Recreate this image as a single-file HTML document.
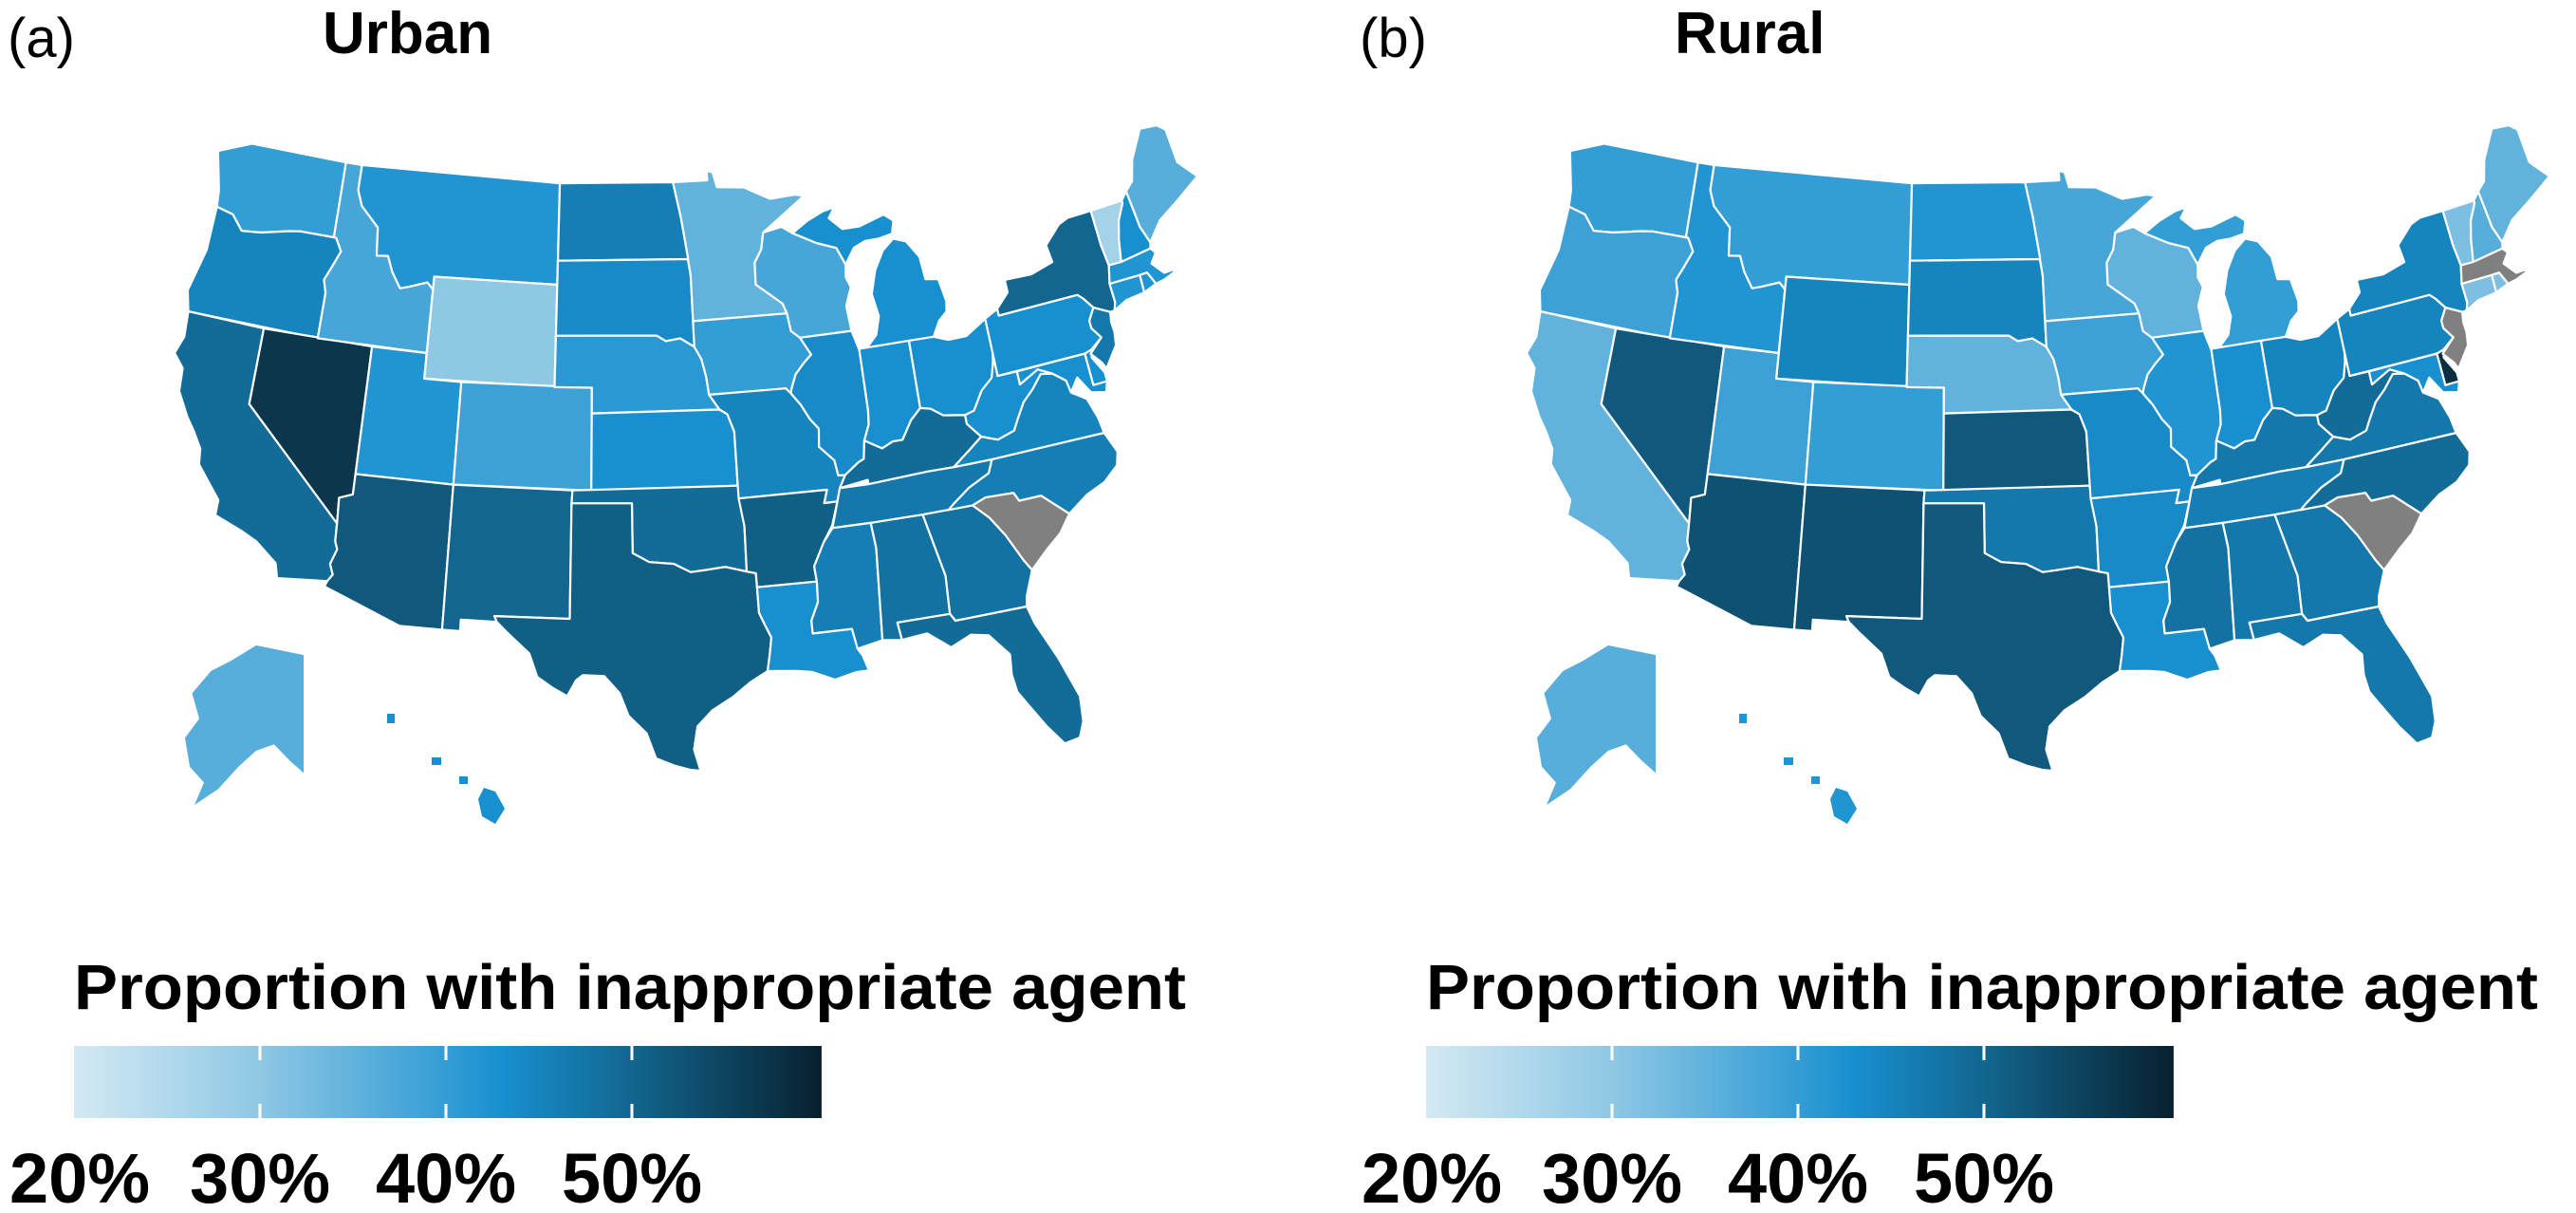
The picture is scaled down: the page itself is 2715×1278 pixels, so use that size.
<!DOCTYPE html>
<html><head><meta charset="utf-8"><style>
html,body{margin:0;padding:0;background:#fff;}
svg{display:block;font-family:"Liberation Sans",Arial,sans-serif;}
</style></head><body>
<svg id="chart" width="2715" height="1278" viewBox="0 0 2715 1278">
<defs id="defs"></defs>
<g id="panels"></g>
</svg>
<script>
// ---- data ----
const stateCodes = ["WA","OR","CA","NV","ID","MT","WY","UT","CO","AZ","NM","ND","SD","NE","KS","OK","TX","MN","IA","MO","AR","LA","WI","IL","MI","MIU","IN","OH","KY","TN","MS","AL","GA","FL","SC","NC","VA","WV","MD","DE","PA","NJ","NY","VT","NH","ME","MA","RI","CT","AK","HI"];
const urbanValues = [40,45,49,57,38,42,30,42,39,52,50,46,44,41,43,49,51,35,40,45,51,43,38,44,43,43,43,43,49,47,46,48,48,49,null,46,45,43,43,43,43,47,50,27,43,36,42,42,42,36,43];
const ruralValues = [40,39,35,52,42,40,45,39,40,53,53,42,45,35,52,47,52,38,39,44,44,43,35,42,40,40,43,45,47,46,48,47,47,47,null,49,47,49,43,58,45,null,45,32,36,35,null,32,32,36,42];
const panelTitles = ["Urban","Rural"];
const panelLetters = ["(a)","(b)"];
const tickValues = [20,30,40,50];
const tickLabels = ["20%","30%","40%","50%"];
const legendTitle = "Proportion with inappropriate agent";

// ---- geometry (lon,lat) ----
const G = {
WA:[[-124.7,48.4],[-122.8,49],[-117.03,49],[-117.03,46],[-118.98,46],[-119.6,45.93],[-121.2,45.65],[-122.3,45.55],[-123,46.1],[-124,46.25],[-124.1,46.9]],
OR:[[-124,46.25],[-123,46.1],[-122.3,45.55],[-121.2,45.65],[-119.6,45.93],[-118.98,46],[-116.9,46],[-116.5,45.5],[-116.9,44.8],[-117.2,44.3],[-117,43.8],[-117.03,42],[-124.2,42],[-124.5,42.8],[-124,44.5]],
CA:[[-124.2,42],[-120,42],[-120,39],[-114.63,35],[-114.6,34.3],[-114.45,34],[-114.7,33.4],[-114.5,33],[-114.72,32.72],[-117.12,32.53],[-117.3,33.1],[-118.4,33.8],[-119.2,34.1],[-120.6,34.5],[-120.6,35.1],[-121.9,36.3],[-122,36.9],[-122.5,37.5],[-123,38],[-123.7,38.9],[-123.8,39.8],[-124.4,40.3],[-124.1,41]],
NV:[[-120,42],[-114.04,42],[-114.04,36.2],[-114.7,36],[-114.63,35],[-120,39]],
ID:[[-117.03,49],[-116.05,49],[-116.05,48],[-115.7,47.4],[-114.6,46.65],[-114.45,45.55],[-113.8,45.6],[-113.45,45],[-112.9,44.4],[-112.4,44.5],[-111.4,44.75],[-111.05,44.5],[-111.05,42],[-117.03,42],[-117,43.8],[-117.2,44.3],[-116.9,44.8],[-116.5,45.5],[-116.9,46],[-117.03,46]],
MT:[[-116.05,49],[-104.05,49],[-104.05,45],[-111.05,45],[-111.05,44.5],[-111.4,44.75],[-112.4,44.5],[-112.9,44.4],[-113.45,45],[-113.8,45.6],[-114.45,45.55],[-114.6,46.65],[-115.7,47.4],[-116.05,48]],
WY:[[-111.05,45],[-104.05,45],[-104.05,41],[-111.05,41]],
UT:[[-114.04,42],[-111.05,42],[-111.05,41],[-109.05,41],[-109.05,37],[-114.04,37]],
CO:[[-109.05,41],[-102.05,41],[-102.05,37],[-109.05,37]],
AZ:[[-114.04,37],[-109.05,37],[-109.05,31.33],[-111.07,31.33],[-114.82,32.5],[-114.72,32.72],[-114.5,33],[-114.7,33.4],[-114.45,34],[-114.6,34.3],[-114.63,35],[-114.7,36],[-114.04,36.2]],
NM:[[-109.05,37],[-103,37],[-103.04,36.5],[-103.04,32],[-106.62,32],[-106.5,31.78],[-108.2,31.78],[-108.2,31.33],[-109.05,31.33]],
ND:[[-104.05,49],[-97.23,49],[-96.85,47.6],[-96.55,46],[-96.56,45.94],[-104.05,45.94]],
SD:[[-104.05,45.94],[-96.56,45.94],[-96.45,45.3],[-96.45,43.5],[-96.45,42.5],[-97.2,42.85],[-98,42.77],[-98.5,43],[-104.05,43]],
NE:[[-104.05,43],[-98.5,43],[-98,42.77],[-97.2,42.85],[-96.45,42.5],[-96.1,42],[-95.9,41.3],[-95.8,40.6],[-95.3,40],[-102.05,40],[-102.05,41],[-104.05,41]],
KS:[[-102.05,40],[-95.3,40],[-94.9,39.8],[-94.6,39.1],[-94.62,37],[-102.05,37]],
OK:[[-103,37],[-94.62,37],[-94.43,35.4],[-94.48,33.64],[-95.5,33.88],[-96.5,33.8],[-97.2,33.75],[-98,34.1],[-99.2,34.2],[-100,34.56],[-100,36.5],[-103.04,36.5]],
TX:[[-103.04,36.5],[-100,36.5],[-100,34.56],[-99.2,34.2],[-98,34.1],[-97.2,33.75],[-96.5,33.8],[-95.5,33.88],[-94.48,33.64],[-94.04,33.55],[-94.04,32],[-93.8,31.5],[-93.55,31],[-93.7,30.3],[-93.85,29.7],[-94.7,29.3],[-95.5,28.8],[-96.5,28.3],[-97.2,27.7],[-97.4,26.8],[-97.15,25.95],[-97.6,26],[-98.3,26.2],[-99.1,26.5],[-99.5,27.5],[-100.3,28.2],[-100.7,29.1],[-101.4,29.77],[-102.4,29.8],[-102.7,29.6],[-103.1,28.97],[-103.8,29.3],[-104.5,29.7],[-104.9,30.6],[-106,31.4],[-106.5,31.78],[-106.62,32],[-103.04,32]],
MN:[[-97.23,49],[-95.15,49],[-95.15,49.38],[-94.8,49.3],[-94.6,48.7],[-93,48.6],[-91.5,48.05],[-90,48.1],[-89.5,48],[-92.1,46.75],[-92.3,46.1],[-92.75,45.6],[-92.8,44.75],[-92.3,44.45],[-91.4,43.9],[-91.22,43.5],[-96.45,43.5],[-96.45,45.3],[-96.56,45.94],[-96.55,46],[-96.85,47.6]],
IA:[[-96.45,43.5],[-91.22,43.5],[-91.1,42.8],[-90.65,42.5],[-90.15,41.8],[-90.6,41.5],[-91.1,41.1],[-91.4,40.55],[-91.45,40.38],[-91.7,40.6],[-95.8,40.6],[-95.9,41.3],[-96.1,42],[-96.45,42.5]],
MO:[[-95.8,40.6],[-91.7,40.6],[-91.45,40.38],[-91,39.9],[-90.6,39.3],[-90.2,38.9],[-90.3,38.2],[-89.6,37.6],[-89.5,37],[-89.15,36.98],[-89.5,36.5],[-89.7,36],[-90.37,36],[-90.15,36.5],[-94.62,36.5],[-94.62,37],[-94.6,39.1],[-94.9,39.8],[-95.3,40]],
AR:[[-94.62,36.5],[-90.15,36.5],[-90.37,36],[-89.7,36],[-90.1,35.1],[-90.6,34.5],[-91.2,33.6],[-91.15,33],[-94.04,33],[-94.04,33.55],[-94.48,33.64],[-94.43,35.4]],
LA:[[-94.04,33],[-91.15,33],[-91.2,32.2],[-91.6,31.5],[-91.6,31],[-89.75,31],[-89.6,30.2],[-89.4,29.9],[-89.2,29.3],[-89.8,29.3],[-90.8,29.1],[-91.8,29.5],[-92.5,29.6],[-93.85,29.7],[-93.7,30.3],[-93.55,31],[-93.8,31.5],[-94.04,32]],
WI:[[-92.1,46.75],[-91,46.9],[-90.4,46.6],[-89.1,46.1],[-88,45.8],[-87.6,45.1],[-87.7,44.6],[-87.5,44.2],[-87.9,43.5],[-87.8,42.5],[-90.65,42.5],[-91.1,42.8],[-91.22,43.5],[-91.4,43.9],[-92.3,44.45],[-92.8,44.75],[-92.75,45.6],[-92.3,46.1]],
IL:[[-90.65,42.5],[-87.8,42.5],[-87.53,41.7],[-87.53,39.35],[-87.6,38.8],[-87.95,38.2],[-88.1,37.5],[-88.4,37.4],[-89.15,36.98],[-89.5,37],[-89.6,37.6],[-90.3,38.2],[-90.2,38.9],[-90.6,39.3],[-91,39.9],[-91.45,40.38],[-91.4,40.55],[-91.1,41.1],[-90.6,41.5],[-90.15,41.8]],
MI:[[-87.1,41.76],[-84.8,41.76],[-83.45,41.73],[-83,42.3],[-82.5,42.6],[-82.4,43],[-82.6,43.9],[-83.3,44],[-83.4,44.9],[-84,45.6],[-84.7,45.8],[-85.4,45.4],[-86,44.7],[-86.4,43.8],[-86.2,42.9],[-86.5,42.2]],
MIU:[[-90.4,46.6],[-89.5,47],[-88.5,47.3],[-87.8,47.4],[-88.2,47],[-87.5,46.5],[-86.5,46.5],[-85,46.8],[-84.5,46.5],[-84.7,46],[-85.5,45.9],[-86.3,45.9],[-87,45.7],[-87.6,45.1],[-88,45.8],[-89.1,46.1]],
IN:[[-87.53,41.76],[-84.8,41.76],[-84.82,39.1],[-85.4,38.7],[-86,38],[-86.5,38],[-87.1,37.8],[-87.95,38.2],[-87.6,38.8],[-87.53,39.35]],
OH:[[-84.8,41.76],[-83.45,41.73],[-82.7,41.5],[-81.7,41.5],[-80.52,42],[-80.52,40.64],[-80.6,40.3],[-80.85,39.7],[-81.5,39.3],[-82.1,38.6],[-82.6,38.5],[-83.3,38.6],[-83.7,38.65],[-84.3,39],[-84.82,39.1]],
KY:[[-84.82,39.1],[-84.3,39],[-83.7,38.65],[-83.3,38.6],[-82.6,38.5],[-82.6,38.15],[-82,37.55],[-82.7,37.15],[-83.67,36.6],[-85,36.62],[-88.05,36.5],[-88.05,36.67],[-89.5,36.5],[-89.15,36.98],[-88.4,37.4],[-88.1,37.5],[-87.95,38.2],[-87.1,37.8],[-86.5,38],[-86,38],[-85.4,38.7]],
TN:[[-90.1,35],[-88.2,35],[-85.6,35],[-84.3,35],[-84,35.2],[-83.1,35.7],[-82,36.1],[-81.7,36.6],[-83.67,36.6],[-85,36.62],[-88.05,36.5],[-89.5,36.5],[-89.7,36]],
MS:[[-90.1,35],[-88.2,35],[-88.1,34],[-88.4,30.4],[-89.6,30.2],[-89.75,31],[-91.6,31],[-91.6,31.5],[-91.2,32.2],[-91.15,33],[-91.2,33.6],[-90.6,34.5]],
AL:[[-88.2,35],[-85.6,35],[-85,32.5],[-85.1,31],[-87.6,31],[-87.5,30.3],[-88.4,30.4],[-88.1,34]],
GA:[[-85.6,35],[-83.1,35],[-82.4,34.4],[-81.8,33.6],[-81.2,32.5],[-80.9,32.05],[-81.4,31.1],[-81.5,30.7],[-84.9,30.7],[-85.1,31],[-85,32.5]],
FL:[[-87.6,31],[-85.1,31],[-84.9,30.7],[-81.5,30.7],[-81.3,30],[-80.6,28.5],[-80,26.8],[-80.1,25.8],[-80.4,25.2],[-81.1,25.1],[-81.7,25.9],[-82.2,26.7],[-82.7,27.5],[-82.8,28.2],[-82.7,29],[-83.5,29.9],[-84.3,30.05],[-85.3,29.7],[-86.3,30.4],[-87.5,30.3]],
SC:[[-83.1,35],[-82.4,35.2],[-81,35.15],[-80.8,34.8],[-79.7,34.8],[-78.55,33.85],[-79.2,33.2],[-80,32.7],[-80.9,32.05],[-81.2,32.5],[-81.8,33.6],[-82.4,34.4]],
NC:[[-84.3,35],[-84,35.2],[-83.1,35.7],[-82,36.1],[-81.7,36.6],[-75.9,36.55],[-75.5,35.7],[-75.7,35.2],[-76.5,34.7],[-77.5,34.4],[-78.55,33.85],[-79.7,34.8],[-80.8,34.8],[-81,35.15],[-82.4,35.2],[-83.1,35]],
VA:[[-83.67,36.6],[-82.7,37.15],[-82,37.55],[-81.2,37.3],[-80.3,37.5],[-80,37.9],[-79.5,38.5],[-78.9,38.9],[-78.3,39.4],[-77.7,39.3],[-77.1,38.9],[-77,38.4],[-76.3,38],[-76,37.2],[-75.9,36.55],[-81.7,36.6]],
WV:[[-82.6,38.15],[-82.6,38.5],[-82.1,38.6],[-81.5,39.3],[-80.85,39.7],[-80.6,40.3],[-80.52,40.64],[-80.52,39.72],[-79.48,39.72],[-79.48,39.2],[-78.4,39.6],[-77.7,39.3],[-78.3,39.4],[-78.9,38.9],[-79.5,38.5],[-80,37.9],[-80.3,37.5],[-81.2,37.3],[-82,37.55]],
MD:[[-79.48,39.72],[-75.79,39.72],[-75.79,38.45],[-75.05,38.45],[-75.25,38.05],[-76,38.2],[-76.5,38.9],[-77,38.4],[-77.1,38.9],[-77.7,39.3],[-78.4,39.6],[-79.48,39.2]],
DE:[[-75.79,39.72],[-75.4,39.8],[-75.5,39.5],[-75.05,38.8],[-75.05,38.45],[-75.79,38.45]],
PA:[[-80.52,42],[-79.76,42.27],[-79.76,42],[-75.35,42],[-75.1,41.8],[-74.7,41.35],[-75.1,40.9],[-75.1,40.6],[-74.72,40.15],[-75.4,39.8],[-75.79,39.72],[-80.52,39.72]],
NJ:[[-74.7,41.35],[-73.9,41],[-74,40.6],[-73.98,40.2],[-74.1,39.7],[-74.9,38.93],[-75.05,39.2],[-75.5,39.65],[-74.72,40.15],[-75.1,40.6],[-75.1,40.9]],
NY:[[-79.76,42],[-79.76,42.27],[-79,42.8],[-79,43.3],[-77.5,43.25],[-76.2,43.5],[-76.3,44.2],[-75.3,44.85],[-74.7,45],[-73.35,45],[-73.35,43.6],[-73.25,42.75],[-73.5,42.05],[-73.5,41.3],[-73.65,41],[-73.9,41],[-74.7,41.35],[-75.1,41.8],[-75.35,42]],
VT:[[-73.35,45],[-71.5,45.01],[-71.5,44.9],[-72,44.3],[-72.3,43.6],[-72.55,42.73],[-73.25,42.75],[-73.35,43.6]],
NH:[[-71.5,45.01],[-71.1,45.3],[-70.98,43.8],[-70.7,43.1],[-70.8,42.87],[-72.55,42.73],[-72.3,43.6],[-72,44.3],[-71.5,44.9]],
ME:[[-71.1,45.3],[-70.6,45.6],[-70.2,46.4],[-69.2,47.45],[-68.2,47.35],[-67.8,47.07],[-67.8,45.7],[-67,44.9],[-68.5,44.3],[-69.8,43.8],[-70.7,43.1],[-70.98,43.8]],
MA:[[-73.5,42.05],[-73.25,42.75],[-72.55,42.73],[-70.8,42.87],[-70.6,42.65],[-71,42.3],[-70.5,41.8],[-70,41.8],[-70.1,42.05],[-69.95,41.7],[-70.6,41.55],[-71.1,41.5],[-71.38,42.02],[-71.8,42.02]],
RI:[[-71.8,42.02],[-71.38,42.02],[-71.1,41.5],[-71.85,41.32]],
CT:[[-73.5,42.05],[-71.8,42.02],[-71.85,41.32],[-72.9,41.25],[-73.65,41],[-73.5,41.3]]
};
const AKshape=[[0.6,0],[1,0.06],[1,0.8],[0.88,0.72],[0.75,0.62],[0.6,0.66],[0.45,0.76],[0.28,0.9],[0.08,1],[0.16,0.86],[0.04,0.76],[0,0.58],[0.12,0.46],[0.06,0.3],[0.22,0.16],[0.38,0.1]];
const HIshapes=[[[408,752],[416,752],[416,762],[408,762]],[[455,798],[465,798],[465,806],[455,806]],[[484,818],[493,818],[493,826],[484,826]],[[510,830],[522,834],[532,852],[522,868],[508,860],[504,842]]];

// ---- projection ----
const rad=Math.PI/180, p1=29.5*rad,p2=45.5*rad,p0=37.5*rad,l0=-101.5;
const n=(Math.sin(p1)+Math.sin(p2))/2, C=Math.cos(p1)**2+2*n*Math.sin(p1), r0=Math.sqrt(C-2*n*Math.sin(p0))/n;
function alb(lon,lat){const r=Math.sqrt(C-2*n*Math.sin(lat*rad))/n, t=n*(lon-l0)*rad; return [r*Math.sin(t), r0-r*Math.cos(t)];}
let mnx=1e9,mxx=-1e9,mny=1e9,mxy=-1e9;
for(const k in G) for(const p of G[k]){const q=alb(p[0],p[1]); mnx=Math.min(mnx,q[0]);mxx=Math.max(mxx,q[0]);mny=Math.min(mny,q[1]);mxy=Math.max(mxy,q[1]);}
const box={x0:184,x1:1262,y0:132,y1:812};
function proj(lon,lat,dx){const q=alb(lon,lat);return [dx+box.x0+(q[0]-mnx)/(mxx-mnx)*(box.x1-box.x0), box.y1-(q[1]-mny)/(mxy-mny)*(box.y1-box.y0)];}

// ---- colour scale ----
const stops=[[20,[211,233,243]],[30,[143,200,229]],[43,[24,144,208]],[50,[18,102,143]],[60.2,[8,32,46]]];
function col(v){ if(v==null) return "#808080";
 v=Math.max(20,Math.min(60.2,v));
 for(let i=0;i<stops.length-1;i++){const a=stops[i],b=stops[i+1]; if(v<=b[0]){const t=(v-a[0])/(b[0]-a[0]); const c=a[1].map((x,j)=>Math.round(x+(b[1][j]-x)*t)); return `rgb(${c.join(",")})`;}}
 return "rgb(8,32,46)";}
const legX0=78, legPerUnit=19.6;
function lx(v){return legX0+(v-20)*legPerUnit;}

const NS="http://www.w3.org/2000/svg";
const panels=document.getElementById("panels"), defs=document.getElementById("defs");
function mk(tag,attrs,parent){const e=document.createElementNS(NS,tag);for(const k in attrs)e.setAttribute(k,attrs[k]);parent.appendChild(e);return e;}

const grad=mk("linearGradient",{id:"ramp",x1:"0",x2:"1",y1:"0",y2:"0"},defs);
for(let i=0;i<=40;i++){const v=20+i*(40.2/40); mk("stop",{offset:(i/40).toFixed(3),"stop-color":col(v)},grad);}

const series=[urbanValues,ruralValues];
series.forEach((vals,pi)=>{
 const dx=pi*1425;
 const g=mk("g",{},panels);
 
 
 const letter=mk("text",{x:8+dx,y:60,"font-size":58},g); letter.textContent=panelLetters[pi];
 
 
 const title=mk("text",{x:340+dx,y:56,"font-size":62,"font-weight":"bold"},g); title.textContent=panelTitles[pi];
 
 
 const map=mk("g",{stroke:"#fff","stroke-width":2.2,"stroke-linejoin":"round"},g);
 
 
 stateCodes.forEach((code,i)=>{
  let d="";
  if(code==="AK"){ d="M"+AKshape.map(p=>[(dx+195+p[0]*125).toFixed(1),(680+p[1]*168).toFixed(1)].join(",")).join("L")+"Z"; }
  else if(code==="HI"){ d=HIshapes.map(s=>"M"+s.map(p=>[(dx+p[0]).toFixed(1),p[1]].join(",")).join("L")+"Z").join(""); }
  else { d="M"+G[code].map(p=>proj(p[0],p[1],dx).map(v=>v.toFixed(1)).join(",")).join("L")+"Z"; }
  const path=mk("path",{d:d,fill:col(vals[i])},map);
  if(code==="AK"||code==="HI") path.setAttribute("stroke","none");
  
  
 });
 const leg=mk("g",{},g);
 
 
 const lt=mk("text",{x:legX0+dx,y:1063,"font-size":67,"font-weight":"bold",textLength:1172,lengthAdjust:"spacingAndGlyphs"},leg); lt.textContent=legendTitle;
 
 
 const bar=mk("rect",{x:legX0+dx,y:1102,width:lx(60.2)-legX0,height:76,fill:"url(#ramp)"},leg);
 
 
 tickValues.forEach((t,k)=>{
  const x=lx(t)+dx;
  if(k>0){
   const a=mk("line",{x1:x,x2:x,y1:1102,y2:1117,stroke:"#fff","stroke-width":3},leg);
   
   
   const b=mk("line",{x1:x,x2:x,y1:1163,y2:1178,stroke:"#fff","stroke-width":3},leg);
   
   
  }
  const tl=mk("text",{x:x+(k==0?6:0),y:1267,"font-size":74,"font-weight":"bold","text-anchor":"middle"},leg); tl.textContent=tickLabels[k];
  
  
 });
});
</script>
</body></html>
